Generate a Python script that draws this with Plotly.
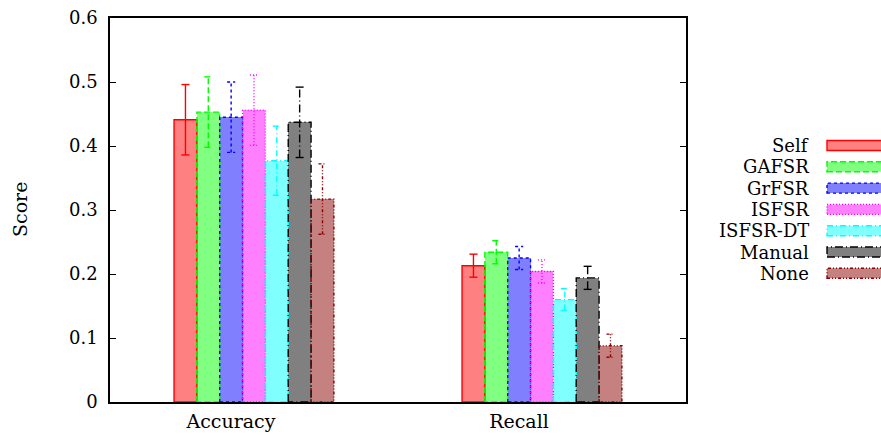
import plotly.graph_objects as go

categories = ["Accuracy", "Recall"]
series = ["Self", "GAFSR", "GrFSR", "ISFSR", "ISFSR-DT", "Manual", "None"]
accuracy = [0.441, 0.453, 0.445, 0.456, 0.377, 0.437, 0.317]
accuracy_err = [0.055, 0.055, 0.055, 0.055, 0.054, 0.055, 0.055]
recall = [0.213, 0.234, 0.225, 0.204, 0.160, 0.194, 0.088]
recall_err = [0.018, 0.018, 0.018, 0.018, 0.017, 0.018, 0.018]

line_colors = ["#ff0000", "#00ff00", "#0000ff", "#ff00ff", "#00ffff", "#000000", "#8b0000"]
fill_colors = ["#ff8080", "#80ff80", "#8080ff", "#ff80ff", "#80ffff", "#808080", "#c58080"]
dashes = ["solid", "6px,3px", "3px,3px", "1px,2px", "6px,3px,1px,3px", "8px,3px,1px,3px", "3px,2px,1px,2px,1px,2px"]

FONT = "DejaVu Serif"
W = 0.0793          # bar width in axis units
OFF0 = -0.158       # first bar offset from tick
CAP = 0.014         # half width of error-bar caps

values = [[accuracy[j], recall[j]] for j in range(len(series))]
errors = [[accuracy_err[j], recall_err[j]] for j in range(len(series))]

fig = go.Figure()
for j, name in enumerate(series):
    xs = [i + OFF0 + j * W for i in range(len(categories))]
    fig.add_trace(go.Bar(x=xs, y=values[j], width=W, marker=dict(color=fill_colors[j], line=dict(width=0)),
                         showlegend=False, hoverinfo="skip"))
for j, name in enumerate(series):
    xs = [i + OFF0 + j * W for i in range(len(categories))]
    ox, oy, ex, ey = [], [], [], []
    for x, v, e in zip(xs, values[j], errors[j]):
        x0, x1 = x - W / 2, x + W / 2
        ox += [x0, x0, x1, x1, x0, None]
        oy += [0, v, v, 0, 0, None]
        ex += [x, x, None, x - CAP, x + CAP, None, x - CAP, x + CAP, None]
        ey += [v - e, v + e, None, v + e, v + e, None, v - e, v - e, None]
    fig.add_trace(go.Scatter(x=ox, y=oy, mode="lines", line=dict(color=line_colors[j], width=1.4, dash=dashes[j]),
                             showlegend=False, hoverinfo="skip"))
    fig.add_trace(go.Scatter(x=ex, y=ey, mode="lines", line=dict(color=line_colors[j], width=1.4, dash=dashes[j]),
                             showlegend=False, hoverinfo="skip"))

# manual legend (gnuplot style: text right aligned, sample on the right)
L, R, T, B = 110, 686, 18, 402
PH = B - T
PW = R - L
for j, name in enumerate(series):
    yc = 145.5 + j * 21.3
    yp = (B - yc) / PH
    fig.add_shape(type="rect", xref="paper", yref="paper",
                  x0=(827 - L) / PW, x1=(890 - L) / PW,
                  y0=yp - 5 / PH, y1=yp + 5 / PH,
                  fillcolor=fill_colors[j], line=dict(color=line_colors[j], width=1.4, dash=dashes[j]))
    fig.add_annotation(xref="paper", yref="paper", x=(811 - L) / PW, y=yp, text=name, showarrow=False,
                       xanchor="right", yanchor="middle", font=dict(family=FONT, size=18, color="#000"))

fig.add_annotation(xref="paper", yref="paper", x=0, y=0.5, xshift=-90, text="Score", textangle=-90,
                   showarrow=False, xanchor="center", yanchor="middle", font=dict(family=FONT, size=19, color="#000"))

fig.update_layout(
    width=881, height=435,
    margin=dict(l=L, r=881 - R, t=T, b=435 - B),
    paper_bgcolor="white", plot_bgcolor="white",
    barmode="overlay", bargap=0,
    font=dict(family=FONT, size=18, color="#000"),
    xaxis=dict(range=[-0.42, 1.58], tickvals=[0, 1], ticktext=categories, showgrid=False, zeroline=False,
               showline=True, linecolor="#000", linewidth=1.5, mirror=True, ticks="", ticklabelstandoff=1,
               tickfont=dict(size=19), automargin=False),
    yaxis=dict(range=[0, 0.6], dtick=0.1, showgrid=False, zeroline=False, showline=True, linecolor="#000",
               linewidth=1.5, mirror="ticks", ticks="inside", ticklen=6, tickcolor="#000", ticklabelstandoff=7,
               automargin=False),
)

fig.write_html("out.html")
